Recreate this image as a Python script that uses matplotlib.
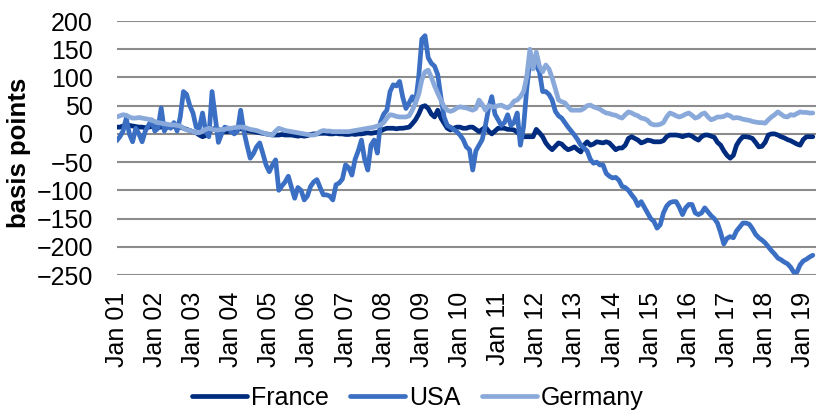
import numpy as np
import matplotlib
matplotlib.use("Agg")
import matplotlib.pyplot as plt

plt.rcParams["font.family"] = ["Liberation Sans", "DejaVu Sans"]

# monthly spreads in basis points, Jan 2001 - Apr 2019
france = [
    12, 12, 14, 16, 15, 14, 13, 12, 12, 11, 12, 13,
    12, 12, 12, 12, 12, 13, 13, 12, 12, 10, 8, 6,
    4, 2, -2, -5, -3, 2, 8, 10, 8, 5, 4, 4,
    6, 8, 10, 9, 8, 6, 5, 4, 3, 2, 1, 0,
    -1, -2, -2, -2, -1, -2, -2, -2, -3, -4, -3, -4,
    -3, -1, 0, 0, 1, 1, 1, 0, 0, 1, 0, 0,
    -1, -1, 0, -1, 0, 0, 1, 2, 1, 2, 3, 5,
    8, 10, 10, 10, 9, 10, 10, 11, 12, 18, 25, 35,
    48, 50, 45, 35, 30, 42, 28, 19, 10, 7, 10, 12,
    12, 10, 10, 12, 12, 8, 4, 8, 12, 5, 0, 5,
    10, 10, 10, 8, 8, 7, 3, -2, -5, -5, -5, -5,
    8, 2, -5, -16, -23, -28, -22, -16, -18, -24, -28, -26,
    -23, -28, -32, -20, -14, -20, -18, -14, -15, -16, -14, -16,
    -22, -28, -25, -25, -20, -8, -5, -8, -11, -16, -14, -11,
    -12, -14, -14, -14, -12, -5, -2, -2, -2, -3, -5, -3,
    -2, -4, -8, -11, -5, -2, -2, -4, -6, -15, -20, -30,
    -38, -43, -38, -20, -11, -5, -5, -6, -8, -15, -23, -22,
    -15, -2, 0, 0, -2, -5, -7, -10, -12, -15, -18, -20,
    -10, -5, -5, -5,
]

usa = [
    -12, -5, 5, 28, 0, -14, 10, 0, -14, 5, 15, 25,
    5, 10, 46, 5, 15, 10, 20, 5, 30, 75, 70, 50,
    37, 12, 10, 37, 5, -5, 75, 30, -15, 0, 12, 10,
    4, 0, 5, 42, 5, -20, -43, -35, -23, -16, -35, -55,
    -67, -55, -46, -100, -92, -85, -75, -95, -114, -95, -100, -117,
    -110, -93, -85, -81, -95, -108, -108, -110, -117, -90, -87, -80,
    -55, -60, -73, -45, -30, -11, -45, -64, -20, -11, -34, 21,
    35, 42, 75, 87, 85, 93, 65, 45, 55, 66, 55, 100,
    168, 174, 135, 125, 120, 105, 65, 30, 15, 12, 8, 4,
    -2, -10, -23, -28, -64, -30, -20, -10, 15, 45, 66, 35,
    25, 15, 20, 34, 15, 20, 37, -20, 12, 80, 130, 125,
    120, 110, 75, 75, 70, 60, 40, 32, 28, 20, 12, 5,
    -2, -10, -20, -25, -30, -45, -52, -50, -55, -55, -70, -75,
    -78, -77, -82, -93, -95, -100, -108, -115, -127, -120, -130, -140,
    -150, -155, -167, -161, -140, -128, -122, -120, -120, -130, -143, -131,
    -125, -125, -140, -143, -140, -131, -138, -145, -150, -158, -175, -195,
    -185, -182, -184, -172, -165, -158, -158, -160, -168, -178, -184, -188,
    -193, -200, -207, -213, -220, -223, -227, -230, -236, -245, -245, -232,
    -225, -222, -218, -215,
]

germany = [
    30, 32, 34, 33, 30, 28, 28, 29, 28, 27, 26, 24,
    22, 20, 19, 18, 17, 16, 16, 15, 14, 10, 7, 6,
    4, 2, 2, 5, 8, 10, 8, 7, 7, 8, 8, 10,
    10, 11, 12, 12, 12, 10, 8, 7, 6, 4, 2, 0,
    -1, -2, 5, 10, 8, 6, 5, 4, 3, 2, 1, 0,
    -1, -2, -2, 0, 4, 6, 5, 5, 4, 4, 4, 4,
    4, 4, 5, 6, 7, 8, 9, 10, 11, 12, 14, 16,
    20, 28, 34, 33, 31, 30, 30, 30, 32, 42, 55, 70,
    96, 110, 113, 100, 85, 72, 60, 48, 42, 40, 42, 46,
    48, 47, 46, 44, 42, 45, 60, 52, 42, 50, 48, 48,
    50, 51, 48, 46, 50, 58, 60, 66, 75, 101, 150, 115,
    145, 120, 110, 122, 115, 99, 80, 60, 57, 55, 48, 42,
    42, 42, 42, 45, 50, 51, 48, 46, 44, 40, 37, 36,
    34, 33, 30, 28, 34, 39, 37, 34, 32, 28, 27, 24,
    18, 16, 16, 17, 20, 30, 37, 35, 32, 30, 32, 35,
    37, 33, 28, 30, 35, 37, 30, 25, 27, 30, 30, 31,
    34, 32, 28, 29, 28, 26, 25, 24, 22, 21, 20, 20,
    19, 25, 30, 34, 39, 35, 31, 30, 34, 33, 36, 39,
    38, 38, 37, 37,
]

tick_labels = [f"Jan {y:02d}" for y in range(1, 20)]

x = np.arange(len(usa))

fig = plt.figure(figsize=(8.16, 4.12), dpi=100)
ax = fig.add_axes([0.143, 0.3325, 0.857, 0.6165])

ax.plot(x, france, color="#002C7F", lw=3.4, label="France", solid_capstyle="round")
ax.plot(x, usa, color="#3A6FC4", lw=3.4, label="USA", solid_capstyle="round")
ax.plot(x, germany, color="#8AA9DB", lw=3.4, label="Germany", solid_capstyle="round")

ax.set_ylim(-250, 200)
ax.set_yticks(np.arange(-250, 201, 50))
ax.set_xlim(0, 220)
ax.set_xticks(np.arange(0, 217, 12))
ax.set_xticklabels(tick_labels, rotation=90)

ax.grid(axis="y", color="#8C8C8C", lw=1.5)
ax.set_axisbelow(True)
for s in ax.spines.values():
    s.set_visible(False)
ax.tick_params(axis="both", length=0, labelsize=18)
ax.tick_params(axis="y", pad=17)
ax.tick_params(axis="x", pad=12)

ax.set_ylabel("basis points", fontsize=18.5, fontweight="bold")
ax.yaxis.set_label_coords(-0.122, 0.48)

fig.legend(loc="center", bbox_to_anchor=(0.512, 0.034), ncol=3,
           frameon=False, fontsize=18, handlelength=2.2,
           handletextpad=0.15, columnspacing=0.85)

fig.savefig("out.png", dpi=100)
